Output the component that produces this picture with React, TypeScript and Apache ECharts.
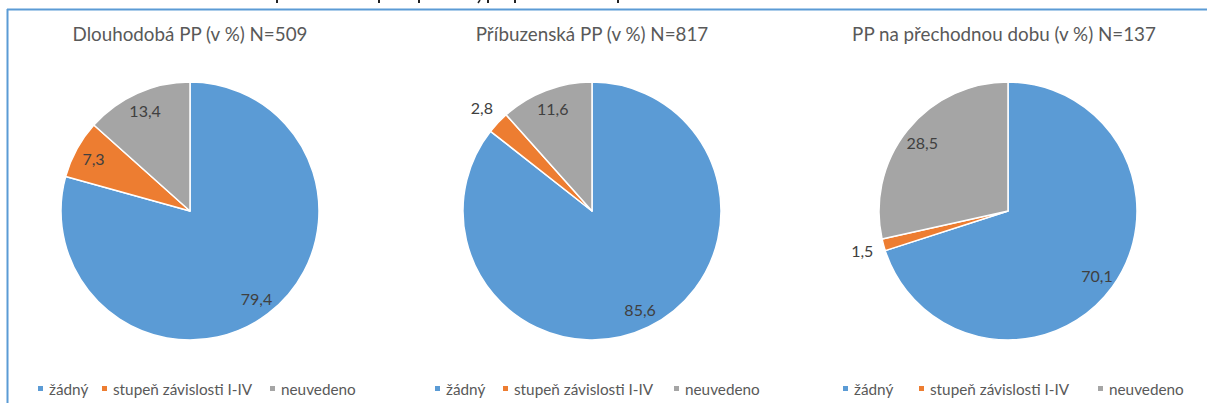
import React, { useEffect, useRef } from "react";
import * as echarts from "echarts";

const categories = ["žádný", "stupeň závislosti I-IV", "neuvedeno"];
const titles = [
  "Dlouhodobá PP (v %) N=509",
  "Příbuzenská PP (v %) N=817",
  "PP na přechodnou dobu (v %) N=137",
];
const longTerm = [79.4, 7.3, 13.4];
const kinship = [85.6, 2.8, 11.6];
const temporary = [70.1, 1.5, 28.5];

const seriesValues = [longTerm, kinship, temporary];
const colors = ["#5B9BD5", "#ED7D31", "#A5A5A5"];
const centersX = [190, 592, 1008];
const centerY = 211;
const R = 129;
const legendItemLeft = [
  [36, 100, 268],
  [433, 501, 672],
  [841, 917, 1096],
];
const titleCenters = [190, 592, 1004];
const FONT = "Lato";

const fmt = (v: number) => v.toFixed(1).replace(".", ",");

export default function App() {
  const ref = useRef<HTMLDivElement>(null);
  useEffect(() => {
    if (!ref.current) return;
    const chart = echarts.init(ref.current, undefined, { renderer: "svg" });
    const series: any[] = [];
    seriesValues.forEach((vals, i) => {
      series.push({
        type: "pie",
        silent: true,
        center: [centersX[i], centerY],
        radius: [0, R],
        startAngle: 90,
        clockwise: true,
        label: { show: false },
        labelLine: { show: false },
        itemStyle: { borderColor: "#ffffff", borderWidth: 1.5 },
        data: categories.map((c, k) => ({
          name: c,
          value: vals[k],
          itemStyle: { color: colors[k] },
        })),
      });
    });
    seriesValues.forEach((vals, i) => {
      // inside labels
      series.push({
        type: "pie",
        silent: true,
        center: [centersX[i], centerY],
        radius: [85, R],
        startAngle: 90,
        clockwise: true,
        labelLine: { show: false },
        itemStyle: { color: "rgba(0,0,0,0)", borderWidth: 0 },
        data: categories.map((c, k) => ({
          name: c,
          value: vals[k],
          label: {
            show: vals[k] >= 5,
            position: "inside",
            formatter: () => fmt(vals[k]),
            color: "#404040",
            fontSize: 16,
            fontFamily: FONT,
          },
        })),
      });
      // outside labels for small slices
      series.push({
        type: "pie",
        silent: true,
        center: [centersX[i], centerY],
        radius: [137, 159],
        startAngle: 90,
        clockwise: true,
        labelLine: { show: false },
        itemStyle: { color: "rgba(0,0,0,0)", borderWidth: 0 },
        data: categories.map((c, k) => ({
          name: c,
          value: vals[k],
          label: {
            show: vals[k] < 5,
            position: "inside",
            formatter: () => fmt(vals[k]),
            color: "#404040",
            fontSize: 16,
            fontFamily: FONT,
          },
        })),
      });
    });

    const descenders = [276, 378, 418, 487, 514, 617];
    const graphic: any[] = [
      {
        type: "line",
        shape: { x1: 7, y1: 9.5, x2: 1207, y2: 9.5 },
        style: { stroke: "#5B9BD5", lineWidth: 2 },
      },
      {
        type: "line",
        shape: { x1: 7.5, y1: 9, x2: 7.5, y2: 403 },
        style: { stroke: "#5B9BD5", lineWidth: 2 },
      },
      ...descenders.map((x) => ({
        type: "rect",
        shape: { x, y: 0, width: 2, height: 3 },
        style: { fill: "#222" },
      })),
      {
        type: "line",
        shape: { x1: 480, y1: 0, x2: 478, y2: 3 },
        style: { stroke: "#222", lineWidth: 1.5 },
      },
      ...titles.map((t, i) => ({
        type: "text",
        x: titleCenters[i],
        y: 33,
        style: {
          text: t,
          fill: "#595959",
          font: `18.8px ${FONT}`,
          textAlign: "center",
          textVerticalAlign: "middle",
        },
      })),
    ];

    const legends: any[] = [];
    legendItemLeft.forEach((lefts) => {
      lefts.forEach((l, k) => {
        legends.push({
          left: l,
          top: 381,
          icon: "rect",
          itemWidth: 7,
          itemHeight: 7,
          padding: 0,
          selectedMode: false,
          data: [categories[k]],
          textStyle: { color: "#595959", fontSize: 15.3, fontFamily: FONT },
        });
      });
    });

    chart.setOption({
      animation: false,
      backgroundColor: "#ffffff",
      color: colors,
      legend: legends,
      graphic,
      series,
    });
    return () => chart.dispose();
  }, []);
  return (
    <div
      ref={ref}
      style={{ position: "fixed", left: 0, top: 0, width: 1207, height: 403 }}
    />
  );
}
